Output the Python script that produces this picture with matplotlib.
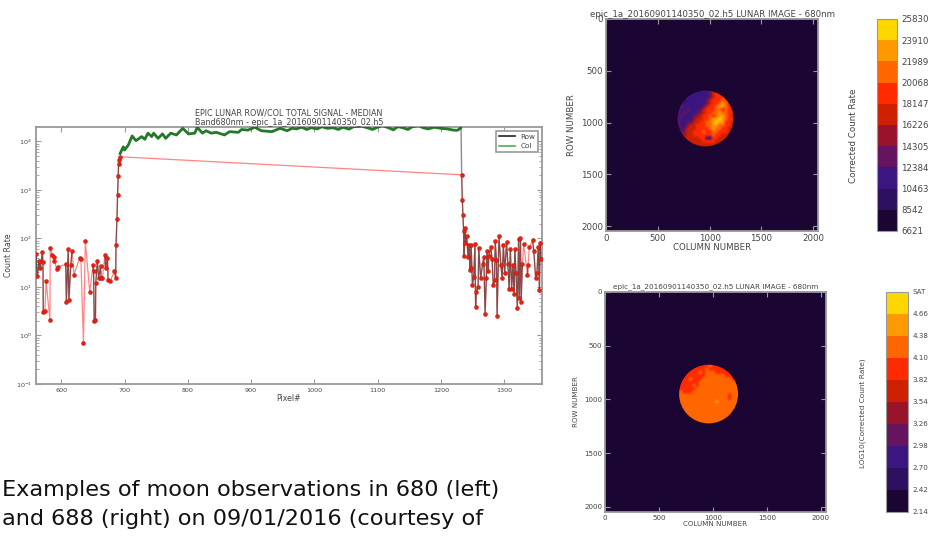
import numpy as np
import matplotlib
matplotlib.use("Agg")
import matplotlib.pyplot as plt
from matplotlib.cm import ScalarMappable
from matplotlib.colors import BoundaryNorm, ListedColormap
from matplotlib.patches import Circle

W, H = 932, 536

# masked (off-moon) pixels, left and right of the disc, plus the two ends of the thin line
low_left_x = [560, 562, 565, 567, 570, 571, 571.5, 574, 576, 582, 582.5, 586, 588, 589, 593, 595,
              607, 608, 611, 612, 615, 617, 620, 629, 631, 635, 638, 645, 650, 651, 652, 654,
              654.5, 657, 659, 662, 663, 665, 669, 670, 673, 674, 677, 684, 686, 686.5, 688,
              689, 690, 690.5, 692, 693]
low_left_y = [48, 16.4, 35, 24, 52, 33, 3.0, 3.2, 13, 2.1, 62, 45, 42, 34, 23, 26,
              29, 4.9, 60, 5.3, 28, 56, 18, 39, 37, 0.7, 87, 7.7, 28, 21, 2.0, 2.1,
              12, 35, 15, 27, 15, 15, 46, 24, 39, 14, 13, 21, 15, 73, 250,
              800, 1900, 3400, 4100, 4800]
low_right_x = [1233, 1234, 1235, 1236, 1237, 1238, 1239, 1241, 1243, 1245, 1246, 1247, 1248, 1250,
               1252, 1254, 1255, 1256, 1259, 1260, 1263, 1266, 1268, 1270, 1272, 1273, 1275, 1276,
               1279, 1281, 1283, 1285, 1286, 1288, 1289, 1292, 1295, 1297, 1299, 1301, 1304, 1306,
               1308, 1310, 1312, 1314, 1316, 1317, 1319, 1321, 1323, 1324, 1326, 1327, 1329, 1331,
               1337, 1338, 1340, 1345, 1347, 1350, 1352, 1354, 1356, 1357, 1358]
low_right_y = [2040, 620, 300, 143, 43, 160, 80, 110, 41, 74, 22, 24, 72, 11,
               16, 75, 3.8, 8, 10, 63, 15, 29, 41, 2.8, 15, 56, 21, 43,
               66, 38, 11, 14, 87, 36, 2.5, 110, 28, 15, 74, 19, 85, 30,
               9, 61, 9, 28, 7, 61, 19, 3.7, 98, 6, 102, 5, 30, 75,
               18, 28, 65, 91, 56, 15, 19, 66, 8.5, 80, 38]

# on-moon part of the row/col profiles
disc_x = [693, 698, 700, 706, 712, 718, 727, 732, 737, 743, 746, 753, 760, 765, 773, 782, 792, 801,
          811, 815, 823, 829, 837, 845, 858, 866, 880, 885, 895, 906, 916, 933, 946, 957, 965, 972,
          980, 988, 995, 1005, 1012, 1020, 1030, 1038, 1045, 1055, 1062, 1075, 1085, 1092, 1100,
          1108, 1118, 1125, 1132, 1140, 1148, 1155, 1165, 1172, 1180, 1190, 1200, 1210, 1220, 1226,
          1231, 1232]
disc_y = [5600, 7700, 6600, 8400, 12900, 10300, 12500, 11000, 14700, 12500, 14700, 11500, 14200,
          11500, 14700, 13500, 18500, 14200, 14700, 19500, 14700, 16500, 14700, 15300, 13500, 15800,
          15300, 17500, 17000, 19500, 16500, 15800, 18500, 16500, 18500, 18000, 19500, 17500, 19000,
          18000, 20000, 18500, 19000, 17500, 19500, 17800, 20000, 20500, 18800, 17500, 19500, 21000,
          18800, 17200, 20000, 19000, 17500, 20000, 21000, 19000, 18000, 19500, 18500, 18000, 17000,
          16800, 18500, 20500]

# 10 colour bands, one digit per cell in the moon grids below
band_colors = ["#1a0533", "#2e1060", "#3b1680", "#66145f", "#99142b",
               "#cc2000", "#ff2a00", "#ff6600", "#ff9900", "#ffd700"]
top_cbar_labels = ["6621", "8542", "10463", "12384", "14305", "16226",
                   "18147", "20068", "21989", "23910", "25830"]
bot_cbar_labels = ["2.14", "2.42", "2.70", "2.98", "3.26", "3.54",
                   "3.82", "4.10", "4.38", "4.66", "SAT"]

moon_top = [
    "22222222222355655555",
    "22222222222355655555",
    "22222222222356656555",
    "22222222222356667665",
    "22212222223566676765",
    "22222222223566787665",
    "22322222235667887665",
    "22223222356667767665",
    "23232223456677877665",
    "22322234566767887655",
    "23222245566788987665",
    "33223355667789886655",
    "33224556667788776655",
    "33235556666787766555",
    "33345566676677666555",
    "44445566666676655555",
    "44455555662266555555",
    "45555555566665555555",
    "55555555555555555555",
    "55555555555555555555",
]
moon_bot = [
    "66666666666666666666",
    "66666666667666666666",
    "66666666676666666666",
    "66666667677766666666",
    "66666666677777766666",
    "66667666777777777666",
    "66666667777777777777",
    "66666767777777777777",
    "76666677777777777777",
    "77666777777777777777",
    "77777777777777776777",
    "77777777777777776777",
    "77777777777787777777",
    "77777777777777777777",
    "77777777777777777777",
    "77777777777777777777",
    "77777777777777777777",
    "77777777777777777777",
    "77777777777777777777",
    "77777777777777777777",
]

GRAY = "#999999"
TXT = "#444444"
cmap = ListedColormap(band_colors)
band_norm = BoundaryNorm(np.arange(11) - 0.5, 10)


def px_axes(fig, x0, y0, x1, y1):
    return fig.add_axes([x0 / W, 1 - y1 / H, (x1 - x0) / W, (y1 - y0) / H])


def style_axes(ax, size, pad=3):
    for s in ax.spines.values():
        s.set_color(GRAY)
        s.set_linewidth(1.3)
    ax.tick_params(which="both", direction="in", top=True, right=True, color=GRAY,
                   labelsize=size, labelcolor=TXT, pad=pad)


def moon_panel(fig, box, cbox, grid, extent, disc, title, tsize, tpad, lsize, labels, cbar_name, nsize, name_xy, ylab_x):
    ax = px_axes(fig, *box)
    ax.set_facecolor(band_colors[0])
    cells = np.array([[int(c) for c in row] for row in grid])
    im = ax.imshow(cells, cmap=cmap, norm=band_norm, extent=extent, interpolation="bilinear",
                   interpolation_stage="rgba", aspect="auto")
    im.set_clip_path(Circle(disc[:2], disc[2], transform=ax.transData))
    ax.set_xlim(0, 2048)
    ax.set_ylim(2048, 0)
    ax.set_xticks([0, 500, 1000, 1500, 2000])
    ax.set_yticks([0, 500, 1000, 1500, 2000])
    style_axes(ax, lsize, pad=2)
    ax.set_title(title, fontsize=tsize, color=TXT, pad=tpad)
    ax.set_xlabel("COLUMN NUMBER", fontsize=lsize, color=TXT, labelpad=0)
    ax.set_ylabel("ROW NUMBER", fontsize=lsize, color=TXT)
    ax.yaxis.set_label_coords((ylab_x - box[0]) / (box[2] - box[0]), 0.5)

    cax = px_axes(fig, *cbox)
    sm = ScalarMappable(norm=BoundaryNorm(np.arange(11), 10), cmap=cmap)
    cb = fig.colorbar(sm, cax=cax, ticks=np.arange(11))
    cb.set_ticklabels(labels)
    cb.ax.tick_params(length=0, labelsize=lsize, labelcolor=TXT, pad=3)
    cb.outline.set_edgecolor(GRAY)
    fig.text(name_xy[0] / W, 1 - name_xy[1] / H, cbar_name, rotation=90, ha="center",
             va="center", fontsize=nsize, color=TXT)


fig = plt.figure(figsize=(W / 100, H / 100), dpi=100)

# line profile
ax = px_axes(fig, 36, 127, 542, 384)
low_x = low_left_x + low_right_x
low_y = low_left_y + low_right_y
row_x = np.array(low_left_x + disc_x + low_right_x, dtype=float)
row_y = np.array(low_left_y + disc_y + low_right_y, dtype=float)
# the row trace only joins neighbouring pixels
gap = np.append(np.diff(row_x) > 3, False)
row_plot = np.where(gap, np.nan, row_y)
ax.plot(low_x, low_y, color="#ff2020", lw=0.9, alpha=0.55, zorder=2)
ax.plot(row_x, row_plot, color="black", lw=1.0, alpha=0.45, zorder=3, label="Row")
ax.plot(disc_x, disc_y, color="#0c6a12", lw=2.0, alpha=0.9, zorder=4, label="Col")
ax.plot(low_x, low_y, ls="none", marker="o", ms=2.9, mfc="#e8200f", mec="#b01a10", mew=0.3, zorder=5)
ax.set_yscale("log")
ax.set_xlim(560, 1360)
ax.set_ylim(0.1, 19700)
ax.set_xticks([600, 700, 800, 900, 1000, 1100, 1200, 1300])
style_axes(ax, 4.6)
ax.set_xlabel("Pixel#", fontsize=5.6, color=TXT, labelpad=0.5)
ax.set_ylabel("Count Rate", fontsize=5.6, color=TXT)
ax.yaxis.set_label_coords((13 - 36) / 506, 0.5)
ax.set_title("EPIC LUNAR ROW/COL TOTAL SIGNAL - MEDIAN\nBand680nm - epic_1a_20160901140350_02.h5",
             fontsize=5.8, color=TXT, pad=1.5, linespacing=1.0)
leg = ax.legend(loc="upper right", fontsize=5.2, borderaxespad=0.5, fancybox=False,
                labelcolor=TXT, handlelength=2.2)
leg.get_frame().set_edgecolor(GRAY)
leg.get_frame().set_linewidth(1.2)
leg.get_frame().set_alpha(1)
# the key shows thin, pale lines
for h, c in zip(leg.get_lines(), ["#222222", "#55aa55"]):
    h.set_color(c)
    h.set_linewidth(1.2)
    h.set_alpha(1)

moon_panel(fig, (606, 19, 818, 231), (877, 19, 897, 231), moon_top, (660, 1260, 1260, 660), (961, 961, 270),
           "epic_1a_20160901140350_02.h5 LUNAR IMAGE - 680nm", 6.25, 1.0, 6.2,
           top_cbar_labels, "Corrected Count Rate", 6.3, (853, 136), 576)
moon_panel(fig, (605, 292, 826, 512), (886, 292, 908, 512), moon_bot, (660, 1260, 1250, 650), (960, 950, 273),
           "epic_1a_20160901140350_02.h5 LUNAR IMAGE - 680nm", 5.25, 3.0, 5.1,
           bot_cbar_labels, "LOG10(Corrected Count Rate)", 5.3, (863, 413), 579)

fig.text(2 / W, 1 - 496 / H, "Examples of moon observations in 680 (left)", fontsize=16.1, color="#111111")
fig.text(2 / W, 1 - 525 / H, "and 688 (right) on 09/01/2016 (courtesy of", fontsize=16.1, color="#111111")

fig.savefig("out.png", dpi=100)
